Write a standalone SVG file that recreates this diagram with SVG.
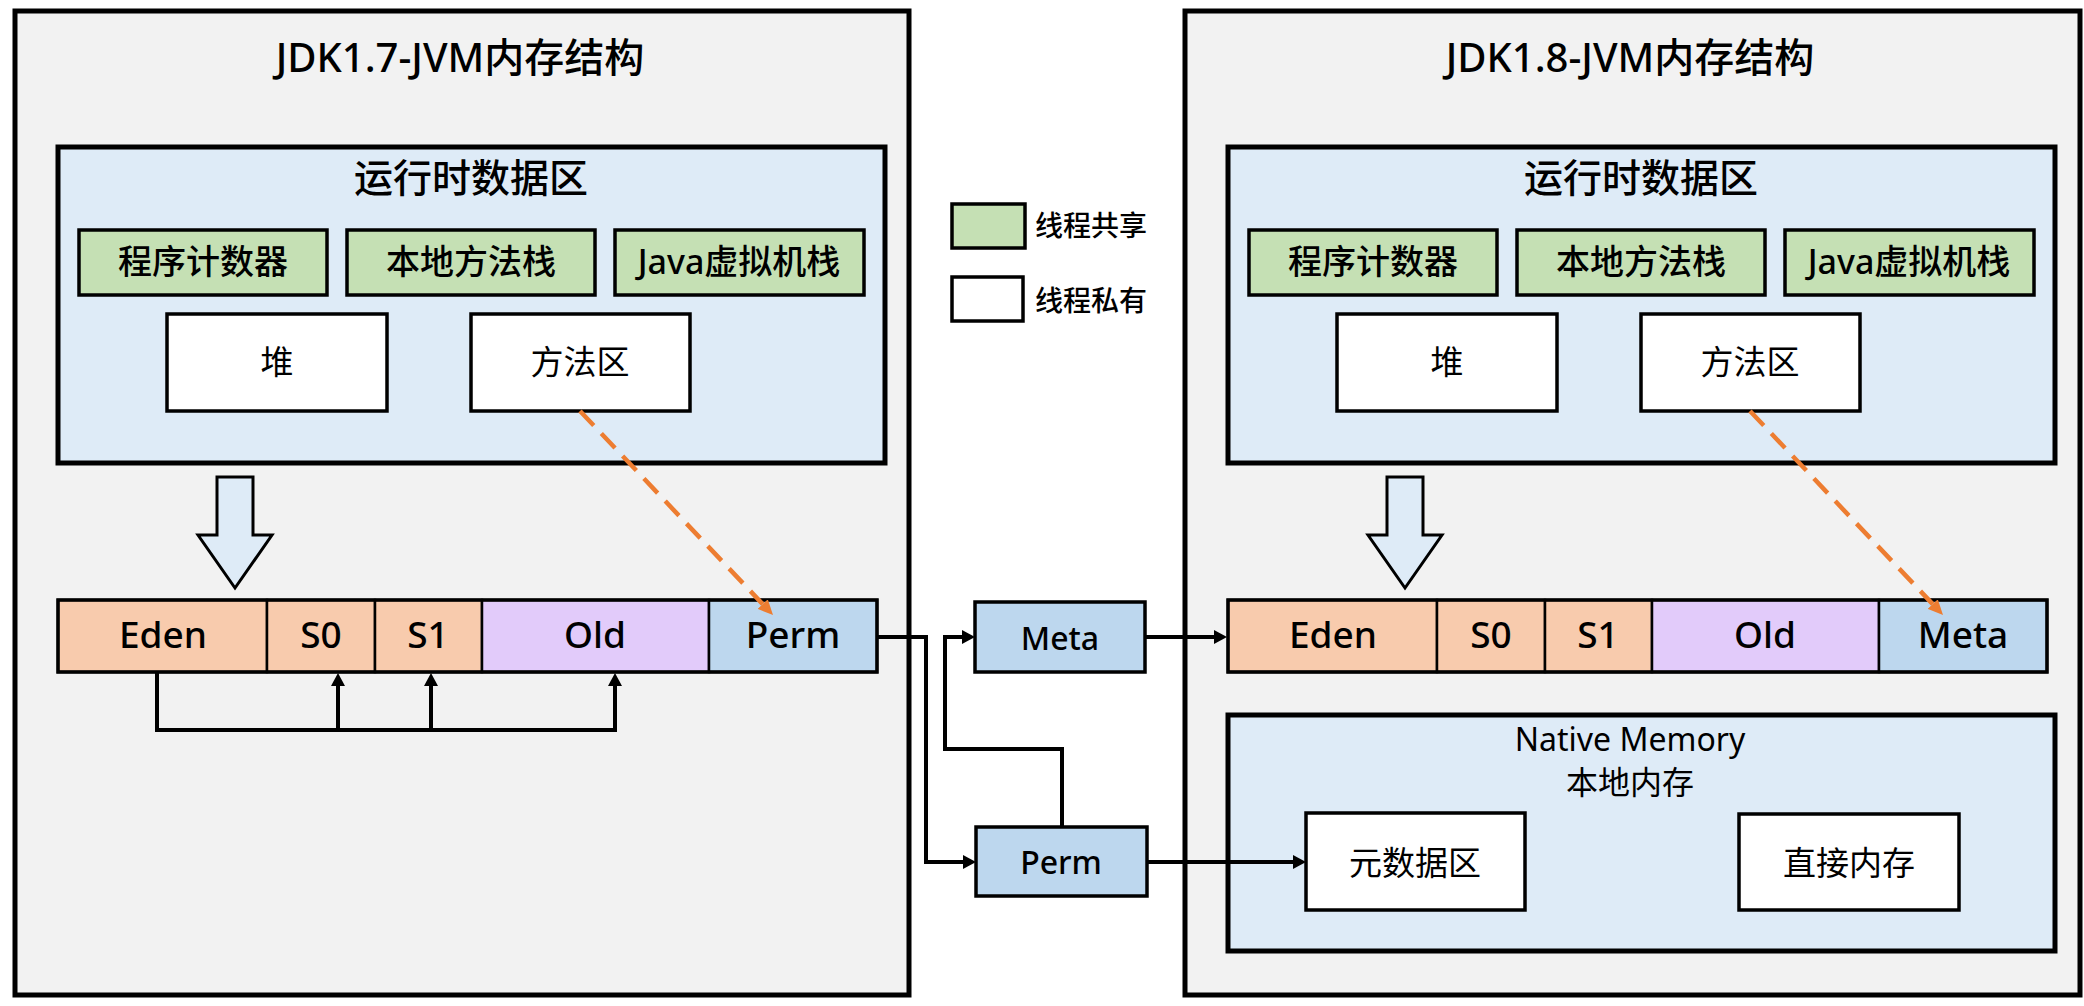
<svg xmlns="http://www.w3.org/2000/svg" width="2084" height="1006" viewBox="0 0 2084 1006">
<defs>
<style>
text{font-family:"Noto Sans","Noto Sans CJK SC",sans-serif;fill:#000;text-anchor:middle}
.panel{fill:#f2f2f2;stroke:#000;stroke-width:5}
.area{fill:#deebf7;stroke:#000;stroke-width:5}
.green{fill:#c5e0b4;stroke:#000;stroke-width:3.5}
.white{fill:#fff;stroke:#000;stroke-width:3.5}
.peach{fill:#f8cbad;stroke:#000;stroke-width:2.5}
.purple{fill:#e2cbfa;stroke:#000;stroke-width:2.5}
.blue{fill:#bdd7ee;stroke:#000;stroke-width:2.5}
.mid{fill:#bdd7ee;stroke:#000;stroke-width:3.5}
.barframe{fill:none;stroke:#000;stroke-width:3.5}
.hollow{fill:#deebf7;stroke:#000;stroke-width:3}
.t1{font-size:40px;font-weight:500}
.t2{font-size:39px;font-weight:500}
.t3{font-size:34px;font-weight:500}
.t4{font-size:33px;font-weight:400}
.t5{font-size:37px;font-weight:500}
.t6{font-size:32px;font-weight:500}
.t7{font-size:32px;font-weight:400}
.t8{font-size:28px;font-weight:500;text-anchor:start}
.line{fill:none;stroke:#000;stroke-width:4}
.dash{fill:none;stroke:#ed7d31;stroke-width:4.5;stroke-dasharray:20 11}
</style>
<marker id="arr" markerUnits="userSpaceOnUse" markerWidth="14" markerHeight="14" refX="0" refY="7" orient="auto">
<path d="M0,0 L13,7 L0,14 Z" fill="#000"/>
</marker>
<marker id="arrO" markerUnits="userSpaceOnUse" markerWidth="16" markerHeight="14" refX="0" refY="7" orient="auto">
<path d="M0,0 L15,7 L0,14 Z" fill="#ed7d31"/>
</marker>
</defs>

<g id="panel-jdk17">
<rect class="panel" x="15" y="11" width="894" height="984"/>
<text class="t1" x="460" y="72">JDK1.7-JVM内存结构</text>
</g>
<g id="runtime-jdk17">
<rect class="area" x="58" y="147" width="827" height="316"/>
<text class="t2" x="471" y="192">运行时数据区</text>
</g>
<g id="pc-17"><rect class="green" x="79" y="230" width="248" height="65"/><text class="t3" x="203" y="274">程序计数器</text></g>
<g id="native-stack-17"><rect class="green" x="347" y="230" width="248" height="65"/><text class="t3" x="471" y="274">本地方法栈</text></g>
<g id="java-stack-17"><rect class="green" x="615" y="230" width="249" height="65"/><text class="t3" x="739" y="274">Java虚拟机栈</text></g>
<g id="heap-17"><rect class="white" x="167" y="314" width="220" height="97"/><text class="t4" x="277" y="374">堆</text></g>
<g id="method-17"><rect class="white" x="471" y="314" width="219" height="97"/><text class="t4" x="580" y="374">方法区</text></g>

<g id="bar-17">
<rect class="peach" x="58" y="600" width="209" height="72"/>
<rect class="peach" x="267" y="600" width="108" height="72"/>
<rect class="peach" x="375" y="600" width="107" height="72"/>
<rect class="purple" x="482" y="600" width="227" height="72"/>
<rect class="blue" x="709" y="600" width="168" height="72"/>
<rect class="barframe" x="58" y="600" width="819" height="72"/>
<text class="t5" x="163" y="648">Eden</text>
<text class="t5" x="321" y="648">S0</text>
<text class="t5" x="428" y="648">S1</text>
<text class="t5" x="595" y="648">Old</text>
<text class="t5" x="793" y="648">Perm</text>
</g>

<g id="panel-jdk18">
<rect class="panel" x="1185" y="11" width="895" height="984"/>
<text class="t1" x="1630" y="72">JDK1.8-JVM内存结构</text>
</g>
<g id="runtime-jdk18">
<rect class="area" x="1228" y="147" width="827" height="316"/>
<text class="t2" x="1641" y="192">运行时数据区</text>
</g>
<g id="pc-18"><rect class="green" x="1249" y="230" width="248" height="65"/><text class="t3" x="1373" y="274">程序计数器</text></g>
<g id="native-stack-18"><rect class="green" x="1517" y="230" width="248" height="65"/><text class="t3" x="1641" y="274">本地方法栈</text></g>
<g id="java-stack-18"><rect class="green" x="1785" y="230" width="249" height="65"/><text class="t3" x="1909" y="274">Java虚拟机栈</text></g>
<g id="heap-18"><rect class="white" x="1337" y="314" width="220" height="97"/><text class="t4" x="1447" y="374">堆</text></g>
<g id="method-18"><rect class="white" x="1641" y="314" width="219" height="97"/><text class="t4" x="1750" y="374">方法区</text></g>

<g id="bar-18">
<rect class="peach" x="1228" y="600" width="209" height="72"/>
<rect class="peach" x="1437" y="600" width="108" height="72"/>
<rect class="peach" x="1545" y="600" width="107" height="72"/>
<rect class="purple" x="1652" y="600" width="227" height="72"/>
<rect class="blue" x="1879" y="600" width="168" height="72"/>
<rect class="barframe" x="1228" y="600" width="819" height="72"/>
<text class="t5" x="1333" y="648">Eden</text>
<text class="t5" x="1491" y="648">S0</text>
<text class="t5" x="1598" y="648">S1</text>
<text class="t5" x="1765" y="648">Old</text>
<text class="t5" x="1963" y="648">Meta</text>
</g>

<g id="native-memory">
<rect class="area" x="1228" y="715" width="827" height="236"/>
<text class="t7" x="1630" y="751">Native Memory</text>
<text class="t7" x="1630" y="794">本地内存</text>
</g>
<g id="metaspace"><rect class="white" x="1306" y="813" width="219" height="97"/><text class="t4" x="1415" y="875">元数据区</text></g>
<g id="direct-memory"><rect class="white" x="1739" y="814" width="220" height="96"/><text class="t4" x="1849" y="875">直接内存</text></g>

<g id="legend">
<rect class="green" x="952" y="204" width="73" height="44"/>
<text class="t8" x="1035" y="236">线程共享</text>
<rect class="white" x="952" y="277" width="71" height="44"/>
<text class="t8" x="1035" y="311">线程私有</text>
</g>

<g id="meta-mid"><rect class="mid" x="975" y="602" width="170" height="70"/><text class="t6" x="1060" y="650">Meta</text></g>
<g id="perm-mid"><rect class="mid" x="976" y="827" width="171" height="69"/><text class="t6" x="1061" y="874">Perm</text></g>

<g id="connectors">
<polygon class="hollow" points="217,477 253,477 253,535 272,535 235,588 198,535 217,535"/>
<polygon class="hollow" points="1387,477 1423,477 1423,535 1442,535 1405,588 1368,535 1387,535"/>
<path class="dash" d="M580,411 L762.7,604.1" marker-end="url(#arrO)"/>
<path class="dash" d="M1750,411 L1932.7,604.1" marker-end="url(#arrO)"/>
<path class="line" d="M157,672 V730 H615 V686" marker-end="url(#arr)"/>
<path class="line" d="M338,730 V686" marker-end="url(#arr)"/>
<path class="line" d="M431,730 V686" marker-end="url(#arr)"/>
<path class="line" d="M877,637 H926 V862 H963" marker-end="url(#arr)"/>
<path class="line" d="M1062,827 V749 H945 V637 H962" marker-end="url(#arr)"/>
<path class="line" d="M1145,637 H1214" marker-end="url(#arr)"/>
<path class="line" d="M1147,862 H1293" marker-end="url(#arr)"/>
</g>
</svg>
